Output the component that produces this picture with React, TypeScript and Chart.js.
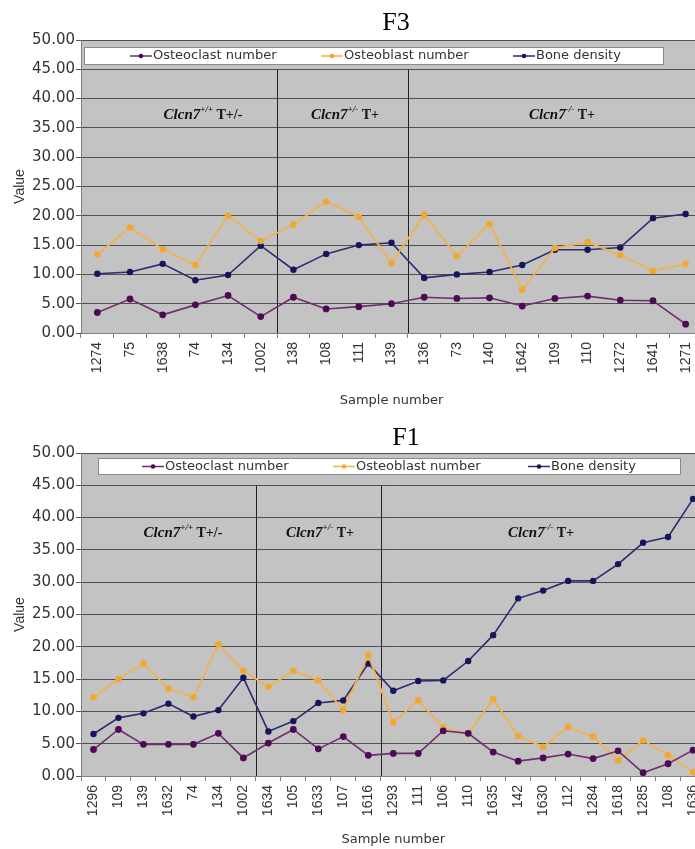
import React, { useEffect, useRef } from 'react';
import { Chart, registerables } from 'chart.js';
Chart.register(...registerables);

// ---------- F3 data ----------
const f3Samples = ['1274', '75', '1638', '74', '134', '1002', '138', '108', '111', '139', '136', '73', '140', '1642', '109', '110', '1272', '1641', '1271'];
const f3Osteoclast = [3.5, 5.8, 3.1, 4.8, 6.4, 2.8, 6.1, 4.1, 4.5, 5.0, 6.1, 5.9, 6.0, 4.6, 5.9, 6.3, 5.6, 5.5, 1.5];
const f3Osteoblast = [13.4, 18.0, 14.3, 11.6, 20.0, 15.7, 18.5, 22.4, 19.8, 11.9, 20.2, 13.1, 18.6, 7.4, 14.5, 15.5, 13.3, 10.6, 11.8];
const f3BoneDensity = [10.1, 10.4, 11.8, 9.0, 9.9, 14.9, 10.8, 13.5, 15.0, 15.4, 9.4, 10.0, 10.4, 11.6, 14.2, 14.2, 14.6, 19.6, 20.3];

// ---------- F1 data ----------
const f1Samples = ['1296', '109', '139', '1632', '74', '134', '1002', '1634', '105', '1633', '107', '1616', '1293', '111', '106', '110', '1635', '142', '1630', '112', '1284', '1618', '1285', '108', '1636'];
const f1Osteoclast = [4.1, 7.2, 4.9, 4.9, 4.9, 6.6, 2.8, 5.1, 7.2, 4.2, 6.1, 3.2, 3.5, 3.5, 7.0, 6.6, 3.7, 2.3, 2.8, 3.4, 2.7, 3.9, 0.5, 1.9, 4.0];
const f1Osteoblast = [12.2, 15.0, 17.4, 13.5, 12.2, 20.4, 16.3, 13.8, 16.3, 14.8, 10.2, 18.7, 8.3, 11.7, 7.5, 6.5, 11.9, 6.2, 4.5, 7.6, 6.1, 2.4, 5.5, 3.2, 0.6];
const f1BoneDensity = [6.5, 9.0, 9.7, 11.2, 9.2, 10.2, 15.2, 6.9, 8.5, 11.3, 11.7, 17.4, 13.2, 14.7, 14.8, 17.8, 21.8, 27.5, 28.7, 30.2, 30.2, 32.8, 36.1, 37.0, 42.9];

const seriesNames = ['Osteoclast number', 'Osteoblast number', 'Bone density'];
const yMin = 0;
const yMax = 50;
const yStep = 5;

const COLORS = {
  clastLine: '#6e2e70',
  clastPoint: '#4e0a52',
  blastLine: '#f2b24e',
  blastPoint: '#f0a830',
  boneLine: '#2c2c70',
  bonePoint: '#16165a',
};

type PanelSpec = {
  title: string;
  titleX: number;
  titleY: number;
  width: number;
  height: number;
  top: number;
  padTop: number;
  xTitlePadBottom: number;
  groups: { sup: string; suffix: string; x: number }[];
  groupY: number;
  separators: number[];
  legendBox: [number, number, number, number];
  legendItems: number[];
  samples: string[];
  clast: number[];
  blast: number[];
  bone: number[];
};

const panels: PanelSpec[] = [
  {
    title: 'F3', titleX: 396, titleY: 23,
    width: 710, height: 412, top: 0, padTop: 40, xTitlePadBottom: 4,
    groups: [
      { sup: '+/+', suffix: ' T+/-', x: 203 },
      { sup: '+/-', suffix: ' T+', x: 345 },
      { sup: '-/-', suffix: ' T+', x: 562 },
    ],
    groupY: 115,
    separators: [6, 10],
    legendBox: [84, 47, 579, 17],
    legendItems: [130, 321, 513],
    samples: f3Samples, clast: f3Osteoclast, blast: f3Osteoblast, bone: f3BoneDensity,
  },
  {
    title: 'F1', titleX: 406, titleY: 18,
    width: 714, height: 429, top: 420, padTop: 33, xTitlePadBottom: 2,
    groups: [
      { sup: '+/+', suffix: ' T+/-', x: 183 },
      { sup: '+/-', suffix: ' T+', x: 320 },
      { sup: '-/-', suffix: ' T+', x: 541 },
    ],
    groupY: 113,
    separators: [7, 12],
    legendBox: [98, 38, 582, 16],
    legendItems: [142, 333, 528],
    samples: f1Samples, clast: f1Osteoclast, blast: f1Osteoblast, bone: f1BoneDensity,
  },
];

function makeOverlay(spec: PanelSpec) {
  return {
    id: 'overlay-' + spec.title,
    beforeDraw(chart: any) {
      const { ctx, chartArea } = chart;
      ctx.save();
      ctx.fillStyle = '#c3c3c3';
      ctx.fillRect(chartArea.left, chartArea.top, chartArea.right - chartArea.left, chartArea.bottom - chartArea.top);
      ctx.restore();
    },
    beforeDatasetsDraw(chart: any) {
      const { ctx, chartArea } = chart;
      const xs = chart.scales.x;
      const ys = chart.scales.y;
      ctx.save();
      ctx.strokeStyle = '#222';
      ctx.lineWidth = 1;
      spec.separators.forEach((idx) => {
        const x = Math.round((xs.getPixelForValue(idx - 1) + xs.getPixelForValue(idx)) / 2) + 0.5;
        ctx.beginPath();
        ctx.moveTo(x, ys.getPixelForValue(45));
        ctx.lineTo(x, chartArea.bottom);
        ctx.stroke();
      });
      // group labels
      ctx.fillStyle = '#111';
      ctx.textBaseline = 'middle';
      spec.groups.forEach((g) => {
        const mainFont = 'italic bold 15px "Liberation Serif", "Times New Roman", serif';
        const supFont = 'italic bold 9px "Liberation Serif", "Times New Roman", serif';
        const tFont = 'bold 14px "Liberation Serif", "Times New Roman", serif';
        ctx.font = mainFont;
        const w1 = ctx.measureText('Clcn7').width;
        ctx.font = supFont;
        const w2 = ctx.measureText(g.sup).width;
        ctx.font = tFont;
        const w3 = ctx.measureText(g.suffix).width;
        let x = g.x - (w1 + w2 + w3) / 2;
        ctx.textAlign = 'left';
        ctx.font = mainFont;
        ctx.fillText('Clcn7', x, g.groupY ?? spec.groupY);
        x += w1;
        ctx.font = supFont;
        ctx.fillText(g.sup, x, spec.groupY - 5);
        x += w2;
        ctx.font = tFont;
        ctx.fillText(g.suffix, x, spec.groupY);
      });
      ctx.restore();
    },
    afterDraw(chart: any) {
      const { ctx } = chart;
      ctx.save();
      // legend box
      const [lx, ly, lw, lh] = spec.legendBox;
      ctx.fillStyle = '#ffffff';
      ctx.fillRect(lx, ly, lw, lh);
      ctx.strokeStyle = '#8a8a8a';
      ctx.lineWidth = 1;
      ctx.strokeRect(lx + 0.5, ly + 0.5, lw, lh);
      const lineCols = [COLORS.clastLine, COLORS.blastLine, COLORS.boneLine];
      const ptCols = [COLORS.clastPoint, COLORS.blastPoint, COLORS.bonePoint];
      const cy = ly + lh / 2 + 0.5;
      spec.legendItems.forEach((sx, i) => {
        ctx.strokeStyle = lineCols[i];
        ctx.lineWidth = 1.5;
        ctx.beginPath();
        ctx.moveTo(sx, cy);
        ctx.lineTo(sx + 22, cy);
        ctx.stroke();
        ctx.fillStyle = ptCols[i];
        ctx.beginPath();
        ctx.arc(sx + 11, cy, 2.3, 0, Math.PI * 2);
        ctx.fill();
        ctx.fillStyle = '#333';
        ctx.font = '13px "DejaVu Sans", sans-serif';
        ctx.textAlign = 'left';
        ctx.textBaseline = 'middle';
        ctx.fillText(seriesNames[i], sx + 23, cy);
      });
      // title
      ctx.fillStyle = '#000';
      ctx.font = '26px "Liberation Serif", "Times New Roman", serif';
      ctx.textAlign = 'center';
      ctx.textBaseline = 'middle';
      ctx.fillText(spec.title, spec.titleX, spec.titleY);
      ctx.restore();
    },
  };
}

function Panel({ spec }: { spec: PanelSpec }) {
  const ref = useRef<HTMLCanvasElement>(null);
  useEffect(() => {
    if (!ref.current) return;
    const xHeight = spec.height - spec.padTop - 293 - (spec.title === 'F1' ? 30 : 0);
    const plotH = spec.title === 'F1' ? 323 : 293;
    const xAxisH = spec.height - spec.padTop - plotH;
    const chart = new Chart(ref.current, {
      type: 'line',
      data: {
        labels: spec.samples,
        datasets: [
          {
            label: seriesNames[0], data: spec.clast,
            borderColor: COLORS.clastLine, backgroundColor: COLORS.clastPoint,
            pointBackgroundColor: COLORS.clastPoint, pointBorderColor: COLORS.clastPoint,
            borderWidth: 1.6, pointRadius: 2.6, tension: 0,
          },
          {
            label: seriesNames[1], data: spec.blast,
            borderColor: COLORS.blastLine, backgroundColor: COLORS.blastPoint,
            pointBackgroundColor: COLORS.blastPoint, pointBorderColor: COLORS.blastPoint,
            borderWidth: 1.8, pointRadius: 2.4, tension: 0,
          },
          {
            label: seriesNames[2], data: spec.bone,
            borderColor: COLORS.boneLine, backgroundColor: COLORS.bonePoint,
            pointBackgroundColor: COLORS.bonePoint, pointBorderColor: COLORS.bonePoint,
            borderWidth: 1.6, pointRadius: 2.4, tension: 0,
          },
        ],
      },
      options: {
        responsive: false,
        animation: false,
        devicePixelRatio: 1,
        layout: { padding: { top: spec.padTop, left: 0, right: 8, bottom: 0 } },
        plugins: { legend: { display: false }, title: { display: false }, tooltip: { enabled: false } },
        scales: {
          x: {
            type: 'category',
            offset: true,
            afterFit: (s: any) => { s.height = xAxisH; },
            grid: { drawOnChartArea: false, drawTicks: true, tickLength: 5, offset: true, color: '#808080' },
            border: { color: '#808080' },
            ticks: {
              autoSkip: false, maxRotation: 90, minRotation: 90, padding: 4,
              color: '#333', font: { family: '"Liberation Sans", Arial, sans-serif', size: 14 },
            },
            title: {
              display: true, text: 'Sample number', color: '#333',
              font: { family: '"DejaVu Sans", sans-serif', size: 13 },
              padding: { top: 0, bottom: spec.xTitlePadBottom },
            },
          },
          y: {
            min: yMin, max: yMax,
            afterFit: (s: any) => { s.width = 81; },
            grid: { color: '#505050', lineWidth: 1, tickLength: 5, drawTicks: true },
            border: { color: '#808080' },
            ticks: {
              stepSize: yStep, padding: 1, color: '#333',
              font: { family: '"DejaVu Sans", sans-serif', size: 15 },
              callback: (v: any) => Number(v).toFixed(2),
            },
            title: {
              display: true, text: 'Value', color: '#333',
              font: { family: '"Liberation Sans", Arial, sans-serif', size: 14 },
              padding: { top: 12, bottom: 0 },
            },
          },
        },
      },
      plugins: [makeOverlay(spec)],
    } as any);
    void xHeight;
    return () => chart.destroy();
  }, [spec]);
  return (
    <canvas
      ref={ref}
      width={spec.width}
      height={spec.height}
      style={{ position: 'absolute', left: 0, top: spec.top, width: spec.width, height: spec.height }}
    />
  );
}

export default function App() {
  return (
    <div style={{ position: 'fixed', left: 0, top: 0, width: 695, height: 849, overflow: 'hidden', background: '#fff' }}>
      {panels.map((p) => (
        <Panel key={p.title} spec={p} />
      ))}
    </div>
  );
}
